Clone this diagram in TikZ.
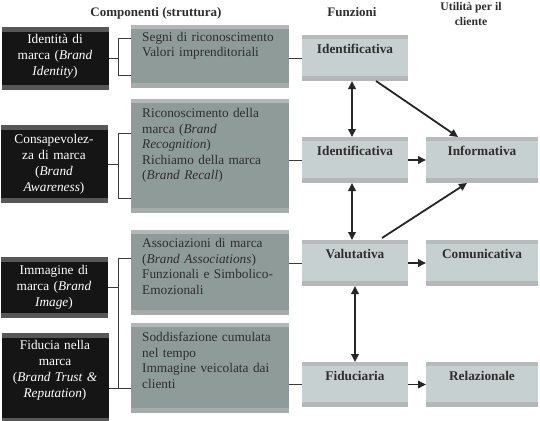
\documentclass[tikz,border=0pt]{standalone}
\usepackage{fontspec}
\setmainfont{Liberation Serif}
\usetikzlibrary{arrows.meta}
\definecolor{blkmain}{HTML}{151515}
\definecolor{blkstrip}{HTML}{575757}
\definecolor{midmain}{HTML}{8F9B99}
\definecolor{midtop}{HTML}{B2B8B7}
\definecolor{midbot}{HTML}{A5ACAA}
\definecolor{funmain}{HTML}{C7D0D1}
\definecolor{funtop}{HTML}{B6BBBB}
\definecolor{funbot}{HTML}{B3B7B7}
\definecolor{txt}{HTML}{2E2E2E}
\definecolor{lnk}{HTML}{3A3A3A}
\tikzset{
  boxbase/.style={rectangle, inner sep=0pt, outer sep=0pt, anchor=north west},
  blk/.style={boxbase, fill=blkmain, path picture={
      \fill[blkstrip] (path picture bounding box.north west) rectangle ([yshift=-5pt]path picture bounding box.north east);
      \fill[blkstrip] (path picture bounding box.south west) rectangle ([yshift=5pt]path picture bounding box.south east);}},
  mid/.style={boxbase, fill=midmain, path picture={
      \fill[midtop] (path picture bounding box.north west) rectangle ([yshift=-4pt]path picture bounding box.north east);
      \fill[midbot] (path picture bounding box.south west) rectangle ([yshift=5pt]path picture bounding box.south east);}},
  fun/.style={boxbase, fill=funmain, minimum width=106pt, text height=18pt, text depth=28pt,
      font=\fontsize{13.3}{15.5}\selectfont\bfseries, text=txt, path picture={
      \fill[funtop] (path picture bounding box.north west) rectangle ([yshift=-4pt]path picture bounding box.north east);
      \fill[funbot] (path picture bounding box.south west) rectangle ([yshift=5pt]path picture bounding box.south east);}},
  uti/.style={fun, minimum width=112pt},
  midtext/.style={anchor=base west, inner sep=0pt, text width=150pt, align=left,
      font=\fontsize{13.3}{15.5}\selectfont, text=txt},
  blktext/.style={anchor=base, inner sep=0pt, text width=105pt, align=center,
      font=\fontsize{13.3}{16}\selectfont, text=white},
  hdr/.style={inner sep=0pt, font=\fontsize{13}{15}\selectfont\bfseries, text=txt},
  brk/.style={draw=lnk, line width=0.9pt},
  arr/.style={draw=black!85, line width=1.8pt, -{Triangle[length=8pt,width=7.5pt]}},
  dbl/.style={draw=black!85, line width=1.8pt, {Triangle[length=8pt,width=7.5pt]}-{Triangle[length=8pt,width=7.5pt]}},
}
\begin{document}
\begin{tikzpicture}[x=1pt, y=-1pt]
\useasboundingbox[fill=white] (0,0) rectangle (540,420);
% headers
\node[hdr] (h1) at (156,13) {Componenti (struttura)};
\node[hdr] (h2) at (352,12) {Funzioni};
\node[hdr, align=center, font=\fontsize{11.7}{15}\selectfont\bfseries] (h3) at (471,13.5) {Utilità per il\\cliente};
% black boxes
\node[blk, minimum width=107pt, minimum height=63pt] (b1) at (2,27) {};
\node[blk, minimum width=107pt, minimum height=78pt] (b2) at (1,125) {};
\node[blk, minimum width=107pt, minimum height=61pt] (b3) at (1,257) {};
\node[blk, minimum width=107pt, minimum height=90pt] (b4) at (2,333) {};
\node[blktext] (b1t) at (55,44) {Identità di\\marca (\textit{Brand}\\\textit{Identity})};
\node[blktext] (b2t) at (54,143) {Consapevolez-\\za di marca\\(\textit{Brand}\\\textit{Awareness})};
\node[blktext] (b3t) at (54,274) {Immagine di\\marca (\textit{Brand}\\\textit{Image})};
\node[blktext] (b4t) at (55,349) {Fiducia nella\\marca\\(\textit{Brand Trust \&}\\\textit{Reputation})};
% middle boxes
\node[mid, minimum width=158pt, minimum height=63pt] (m1) at (131,25) {};
\node[mid, minimum width=158pt, minimum height=114pt] (m2) at (131,99) {};
\node[mid, minimum width=158pt, minimum height=85pt] (m3) at (131,230) {};
\node[mid, minimum width=158pt, minimum height=90pt] (m4) at (131,323) {};
\node[midtext] (m1t) at (142,41.5) {Segni di riconoscimento\\Valori imprenditoriali};
\node[midtext] (m2t) at (142,117.5) {Riconoscimento della\\marca (\textit{Brand}\\\textit{Recognition})\\Richiamo della marca\\(\textit{Brand Recall})};
\node[midtext] (m3t) at (142,247.5) {Associazioni di marca\\(\textit{Brand Associations})\\Funzionali e Simbolico-\\Emozionali};
\node[midtext] (m4t) at (142,341.5) {Soddisfazione cumulata\\nel tempo\\Immagine veicolata dai\\clienti};
% function boxes
\node[fun] (f1) at (302,35) {Identificativa};
\node[fun] (f2) at (302,137) {Identificativa};
\node[fun] (f3) at (302,240) {Valutativa};
\node[fun, text depth=27pt] (f4) at (302,362) {Fiduciaria};
% utility boxes
\node[uti] (u2) at (426,137) {Informativa};
\node[uti] (u3) at (426,240) {Comunicativa};
\node[uti, text depth=27pt] (u4) at (426,362) {Relazionale};
% brackets
\coordinate (k1t) at (118,38);  \coordinate (k1b) at (118,75);
\coordinate (k2t) at (118,133); \coordinate (k2b) at (118,198);
\coordinate (k3t) at (118,258); \coordinate (k3b) at (118,388);
\draw[brk] (m1.west |- k1t) -- (k1t) -- (k1b) -- (m1.west |- k1b);
\draw[brk] (b1.east) -- (b1.east -| k1t);
\draw[brk] (m2.west |- k2t) -- (k2t) -- (k2b) -- (m2.west |- k2b);
\draw[brk] (b2.east) -- (b2.east -| k2t);
\draw[brk] (m3.west |- k3t) -- (k3t) -- (k3b) -- (m4.west |- k3b);
\draw[brk] (b3.east) -- (b3.east -| k3t);
\draw[brk] (b4.east |- k3b) -- (k3b);
% middle to function
\draw[brk] (f1.west) -- (f1.west -| m1.east);
\draw[brk] (f2.west) -- (f2.west -| m2.east);
\draw[brk] (f3.west) -- (f3.west -| m3.east);
\draw[brk] (f4.west) -- (f4.west -| m4.east);
% arrows
\draw[dbl] ([xshift=-3pt]f1.south) -- ([xshift=-3pt]f2.north);
\draw[dbl] ([xshift=-3pt]f2.south) -- ([xshift=-3pt]f3.north);
\draw[dbl] (f3.south) -- (f4.north);
\draw[arr] ([xshift=21pt]f1.south) -- ([xshift=-24pt]u2.north);
\draw[arr] ([xshift=27pt,yshift=2pt]f3.north) -- ([xshift=-15pt]u2.south);
\draw[arr] (f2.east) -- (f2.east -| u2.west);
\draw[arr] (f3.east) -- (f3.east -| u3.west);
\draw[arr] (f4.east) -- (f4.east -| u4.west);
\end{tikzpicture}
\end{document}
